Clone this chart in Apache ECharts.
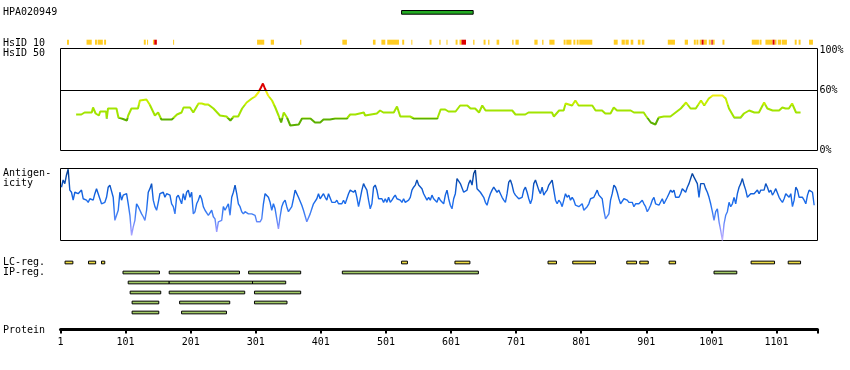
<!DOCTYPE html>
<html><head><meta charset="utf-8">
<script src="https://cdn.jsdelivr.net/npm/echarts@6/dist/echarts.min.js"></script>
<style>html,body{margin:0;padding:0;background:#fff}#c{width:850px;height:370px}</style>
</head><body><div id="c"></div>
<script>
// ---------------- data ----------------
const proteinLength = 1164;
const tickStep = 100;
const antibodyName = 'HPA020949';
const antigenRegion = [[525, 635]];
const hsid10Yellow = [[11,14],[41,49],[54,57],[58,66],[68,71],[129,132],[134,135],[143,145],[174,175],[303,314],[324,329],[369,371],[434,441],[481,485],[494,500],[503,521],[526,529],[540,541],[568,571],[583,585],[594,595],[608,611],[614,617],[635,637],[651,654],[658,660],[671,675],[695,697],[700,705],[729,734],[741,743],[752,760],[774,777],[778,786],[789,792],[794,797],[798,818],[851,857],[863,868],[869,874],[877,881],[888,892],[894,898],[934,945],[960,965],[974,977],[978,981],[983,986],[989,994],[997,1000],[1003,1006],[1018,1021],[1063,1074],[1075,1078],[1084,1095],[1098,1101],[1103,1108],[1109,1117],[1129,1132],[1135,1138],[1151,1157]];
const hsid10Red = [[145,149],[617,624],[986,989],[1001,1003],[1095,1098]];
const hsid50Pos = [25,33,38,49,51,55,60,62,71,72,74,87,90,95,97,103,105,110,120,123,133,138,146,151,156,172,174,180,187,190,200,205,213,218,223,228,236,246,256,262,267,274,280,287,295,300,305,309,312,315,320,326,331,336,340,344,349,354,367,372,385,392,400,405,415,418,423,441,446,454,456,467,469,472,487,492,497,513,518,523,538,544,559,562,580,581,585,592,597,608,610,615,626,631,638,644,649,654,695,700,715,720,738,744,756,759,767,774,777,787,792,797,818,823,833,838,846,851,856,877,882,897,900,908,915,920,928,938,944,954,962,969,977,985,990,997,1003,1018,1023,1028,1036,1046,1051,1059,1067,1074,1082,1087,1095,1105,1110,1115,1120,1125,1131,1138];
const hsid50Val = [36,36,38,38,43,37,35,39,39,32,42,42,33,32,30,30,35,42,42,50,51,46,35,38,31,31,33,36,38,43,43,38,47,47,46,46,42,35,34,30,34,34,42,48,52,54,58,63,67,62,55,50,43,35,28,38,33,25,26,32,32,28,28,31,31,29,32,32,36,36,38,38,35,37,37,40,38,38,44,34,34,32,32,32,32,30,41,41,39,39,37,45,45,42,42,38,45,40,40,36,36,38,38,38,38,34,40,40,47,45,50,45,45,40,40,37,37,43,40,40,38,38,35,28,26,33,34,34,37,42,48,42,42,50,45,52,55,55,52,42,33,33,37,40,38,38,48,42,40,40,43,42,42,47,38,38];
const antigenicityFirstResidue = 2.5;
const antigenicityStep = 2.564;
const antigenicityVal = [
74,84,79,91,99,70,67,56,67,65, 65,63,70,58,56,56,53,58,56,56, 65,72,65,58,51,53,53,60,74,77,
77,60,28,30,42,67,56,63,65,65, 51,35,7,19,28,51,47,42,37,33, 28,42,67,72,79,56,47,42,53,65,
65,67,60,65,63,63,51,47,37,60, 63,65,51,65,56,67,70,60,67,37, 40,51,56,63,58,47,42,44,35,37,
42,33,30,12,26,26,28,47,42,44, 51,35,60,67,77,65,51,47,40,37, 40,42,37,35,37,37,35,26,26,26,
30,51,65,67,60,53,42,51,44,42, 16,33,47,53,56,47,40,42,47,58, 70,72,60,58,49,42,40,26,28,37,
44,51,53,58,65,58,60,65,60,56, 65,63,53,51,53,56,51,53,51,56, 51,58,65,70,70,67,70,60,47,58,
70,79,74,70,56,44,51,74,77,70, 58,60,58,53,58,53,60,53,56,60, 63,58,60,56,53,58,53,51,56,60,
70,74,77,84,77,79,72,65,
65,56,60,56,63,58,60,53,60,56, 58,51,63,70,58,49,44,58,65,86, 88,79,79,67,65,70,79,84,77,93,
98,72,74,67,65,60,53,49,58,65, 70,74,72,67,70,65,60,56,53,65, 81,84,77,67,63,65,58,58,60,70,
74,67,58,51,58,79,84,77,70,65, 74,63,67,70,77,79,84,70,56,51, 56,53,47,49,65,60,63,56,60,56,
49,51,47,49,51,42,44,47,51,58, 56,60,65,70,63,65,58,42,30,28, 37,56,65,77,74,67,58,51,51,58,
58,56,53,51,53,47,51,53,51,53, 56,51,47,40,44,49,56,60,51,53, 49,47,58,51,53,60,65,70,67,70,
60,58,60,65,72,74,67,74,79,86, 93,88,86,79,60,79,81,79,72,67, 60,51,40,28,40,44,26,14,0,23,
35,40,53,47,51,60,51,65,74,79, 86,77,70,60,60,65,67,65,67,70, 65,70,72,70,79,74,67,70,63,67,
72,70,60,56,53,58,65,63,60,65, 47,56,74,70,60,58,60,56,51,63, 70,72,67,49];
const lcRegions = [[8,20],[44,55],[64,69],[525,534],[607,630],[750,763],[788,823],[871,886],[891,904],[936,946],[1062,1098],[1119,1138]];
const ipRows = [
  [[97,153],[168,276],[290,370],[434,643],[1005,1040]],
  [[105,168],[168,296],[296,347]],
  [[108,155],[168,284],[299,370]],
  [[111,152],[184,261],[299,349]],
  [[111,152],[187,256]]
];
const regionRowLabels = ['LC-reg.', 'IP-reg.', '', '', '', ''];
const percentLabels = {0: '0%', 60: '60%', 100: '100%'};
const thresholdPct = 60;

// ---------------- build ----------------
const FONT = '"DejaVu Sans Mono", monospace';
const u = r => r - 1; // axis unit: residue offset from 1
const xMax = proteinLength - 1;
const L = 60.5, W = 757;

function rectRender(fillFixed, stroke, hFrac) {
  return function (params, api) {
    const row = api.value(2);
    const a = api.coord([api.value(0), row]);
    const b = api.coord([api.value(1), row]);
    const h = api.size([0, 1])[1] * hFrac;
    return {
      type: 'rect',
      shape: { x: a[0], y: a[1] - h / 2, width: Math.max(b[0] - a[0], 1), height: h },
      style: { fill: fillFixed || api.visual('color'), stroke: stroke || null, lineWidth: stroke ? 1 : 0 }
    };
  };
}

const hsid10Data = hsid10Yellow.map(d => ({ value: [u(d[0]), u(d[1]), 0], itemStyle: { color: '#ffcc22' } }))
  .concat(hsid10Red.map(d => ({ value: [u(d[0]), u(d[1]), 0], itemStyle: { color: '#dd0000' } })));
const regionData = [];
lcRegions.forEach(d => regionData.push({ value: [u(d[0]), u(d[1]), 0], itemStyle: { color: '#eedd44' } }));
ipRows.forEach((row, i) => row.forEach(d => regionData.push({ value: [u(d[0]), u(d[1]), i + 1], itemStyle: { color: '#a2cc66' } })));

const grids = [
  { left: L, width: W, top: 10, height: 4.7 },
  { left: L, width: W, top: 39.7, height: 5 },
  { left: L, width: W, top: 48.5, height: 102, show: true, borderColor: '#000', borderWidth: 1 },
  { left: L, width: W, top: 168.5, height: 72, show: true, borderColor: '#000', borderWidth: 1 },
  { left: L, width: W, top: 257.5, height: 60 },
  { left: L, width: W, top: 319.5, height: 10 }
];
const hiddenX = i => ({ type: 'value', gridIndex: i, min: 0, max: xMax, show: false });
const xAxes = [0, 1, 2, 3, 4].map(hiddenX);
xAxes.push({
  type: 'value', gridIndex: 5, min: 0, max: xMax, interval: tickStep, position: 'bottom',
  axisLine: { show: true, lineStyle: { color: '#000', width: 3 } },
  axisTick: { show: true, length: 4, lineStyle: { color: '#000', width: 2 } },
  axisLabel: { margin: 8, color: '#000', fontFamily: FONT, fontSize: 10,
    formatter: v => (v % tickStep === 0 ? String(v + 1) : '') },
  splitLine: { show: false }
});
const catAxis = (i, data, extra) => Object.assign({ type: 'category', gridIndex: i, data: data,
  axisLine: { show: false }, axisTick: { show: false }, axisLabel: { show: false }, splitLine: { show: false } }, extra || {});
const yAxes = [
  catAxis(0, [antibodyName]),
  catAxis(1, ['HsID 10']),
  { type: 'value', gridIndex: 2, position: 'right', min: 0, max: 102, interval: 20,
    axisLine: { show: false }, axisTick: { show: false }, splitLine: { show: false },
    axisLabel: { margin: 2, color: '#000', fontFamily: FONT, fontSize: 10, align: 'left',
      formatter: v => percentLabels[v] || '' } },
  { type: 'value', gridIndex: 3, min: 0, max: 100, show: false },
  catAxis(4, regionRowLabels, { inverse: true,
    axisLabel: { show: true, interval: 0, align: 'left', margin: 57.5, color: '#000', fontFamily: FONT, fontSize: 10 } }),
  { type: 'value', gridIndex: 5, show: false }
];

const txt = (x, y, s) => ({ type: 'text', left: x, top: y, style: { text: s, font: '10px ' + FONT, fill: '#000' } });

const option = {
  animation: false,
  backgroundColor: '#fff',
  grid: grids,
  xAxis: xAxes,
  yAxis: yAxes,
  visualMap: [
    { type: 'piecewise', show: false, seriesIndex: 2, dimension: 1,
      pieces: [
        { lt: 33, color: '#5cb000' },
        { gte: 33, lt: 45, color: '#a2e400' },
        { gte: 45, lt: 53, color: '#c4ee00' },
        { gte: 53, lt: 60, color: '#eeee11' },
        { gte: 60, color: '#dd0000' }
      ] },
    { type: 'continuous', show: false, seriesIndex: 3, dimension: 1, min: 0, max: 100,
      inRange: { color: ['#c4b4ff', '#8c94ff', '#4a82f4', '#1f6fee', '#1160dd', '#0a4cb0', '#003a8c'] } }
  ],
  graphic: [
    txt(3, 7.5, antibodyName),
    txt(3, 38, 'HsID 10'),
    txt(3, 48, 'HsID 50'),
    { type: 'text', left: 3, top: 168.5, style: { text: 'Antigen-\nicity', font: '10px ' + FONT, fill: '#000', lineHeight: 10 } },
    txt(3, 325, 'Protein')
  ],
  series: [
    { type: 'custom', xAxisIndex: 0, yAxisIndex: 0, renderItem: rectRender('#22aa22', '#000', 3.7 / 4.7),
      encode: { x: [0, 1], y: 2 }, data: antigenRegion.map(d => [u(d[0]), u(d[1]), 0]) },
    { type: 'custom', xAxisIndex: 1, yAxisIndex: 1, renderItem: rectRender(null, null, 1),
      encode: { x: [0, 1], y: 2 }, data: hsid10Data },
    { type: 'line', xAxisIndex: 2, yAxisIndex: 2, showSymbol: false, symbol: 'none',
      lineStyle: { width: 2 }, data: hsid50Pos.map((p, i) => [u(p), hsid50Val[i]]),
      markLine: { silent: true, symbol: 'none', label: { show: false },
        lineStyle: { color: '#000', width: 1, type: 'solid' }, data: [{ yAxis: thresholdPct }] } },
    { type: 'line', xAxisIndex: 3, yAxisIndex: 3, showSymbol: false, symbol: 'none',
      lineStyle: { width: 1.4 },
      data: antigenicityVal.map((v, i) => [u(antigenicityFirstResidue + i * antigenicityStep), v]) },
    { type: 'custom', xAxisIndex: 4, yAxisIndex: 4, renderItem: rectRender(null, '#000', 0.27),
      encode: { x: [0, 1], y: 2 }, data: regionData }
  ]
};
const chart = echarts.init(document.getElementById('c'), null, { renderer: 'canvas' });
chart.setOption(option);
</script></body></html>
